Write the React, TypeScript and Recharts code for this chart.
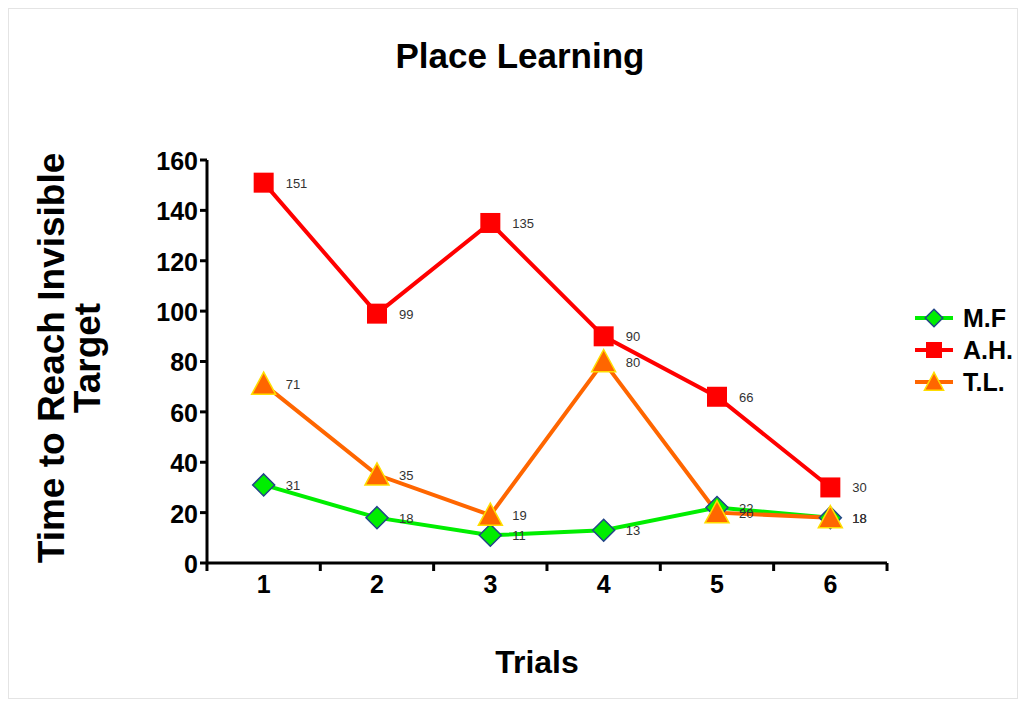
import { LineChart, Line, XAxis, YAxis, LabelList } from 'recharts';

const trials = [1, 2, 3, 4, 5, 6];
const mf = [31, 18, 11, 13, 22, 18];
const ah = [151, 99, 135, 90, 66, 30];
const tl = [71, 35, 19, 80, 20, 18];
const yTicks = [0, 20, 40, 60, 80, 100, 120, 140, 160];

const data = trials.map((t, i) => ({ trial: t, mf: mf[i], ah: ah[i], tl: tl[i] }));

const FONT = '"Liberation Sans", Arial, sans-serif';
const HALF_BAND = 56.7;

const series = [
  { key: 'mf', name: 'M.F', color: '#00ee00', shape: 'diamond' },
  { key: 'ah', name: 'A.H.', color: '#ff0000', shape: 'square' },
  { key: 'tl', name: 'T.L.', color: '#ff6600', shape: 'triangle' },
];

function Marker({ cx, cy, shape, size = 1 }: any) {
  if (cx == null || cy == null) return null;
  if (shape === 'diamond') {
    const r = 11 * size;
    return (
      <polygon
        points={`${cx},${cy - r} ${cx + r},${cy} ${cx},${cy + r} ${cx - r},${cy}`}
        fill="#00ee00"
        stroke="#224488"
        strokeWidth={1.5}
      />
    );
  }
  if (shape === 'square') {
    const r = 10 * size;
    return <rect x={cx - r} y={cy - r} width={2 * r} height={2 * r} fill="#ff0000" />;
  }
  const r = 12 * size;
  return (
    <polygon
      points={`${cx},${cy - r} ${cx + r},${cy + r * 0.85} ${cx - r},${cy + r * 0.85}`}
      fill="#ff6600"
      stroke="#ffdd00"
      strokeWidth={1.5}
    />
  );
}

function XTick({ x, y, payload, index }: any) {
  return (
    <g>
      <line x1={x - HALF_BAND} y1={y - 8} x2={x - HALF_BAND} y2={y} stroke="#000" strokeWidth={3} />
      {index === trials.length - 1 && (
        <line x1={x + HALF_BAND} y1={y - 8} x2={x + HALF_BAND} y2={y} stroke="#000" strokeWidth={3} />
      )}
      <text x={x} y={y + 22} textAnchor="middle" fontFamily={FONT} fontWeight="bold" fontSize={25} fill="#000">
        {payload.value}
      </text>
    </g>
  );
}

function PointLabel({ x, y, value }: any) {
  return (
    <text x={x + 22} y={y + 5} fontFamily={FONT} fontSize={13} fill="#333">
      {value}
    </text>
  );
}

function LegendBox() {
  return (
    <div style={{ position: 'absolute', left: 913, top: 302, fontFamily: FONT }}>
      {series.map((s) => (
        <div key={s.key} style={{ display: 'flex', alignItems: 'center', height: 32 }}>
          <svg width={44} height={28}>
            <line x1={2} y1={14} x2={40} y2={14} stroke={s.color} strokeWidth={4} />
            <Marker cx={21} cy={14} shape={s.shape} size={0.8} />
          </svg>
          <span style={{ fontWeight: 'bold', fontSize: 25, marginLeft: 6 }}>{s.name}</span>
        </div>
      ))}
    </div>
  );
}

export default function App() {
  return (
    <div style={{ position: 'fixed', left: 0, top: 0, width: 1025, height: 704, background: '#fff' }}>
      <div
        style={{
          position: 'absolute',
          left: 8,
          top: 8,
          width: 1008,
          height: 689,
          border: '1px solid #e4e4e4',
        }}
      />
      <div
        style={{
          position: 'absolute',
          left: 0,
          top: 36,
          width: 1040,
          textAlign: 'center',
          fontFamily: FONT,
          fontWeight: 'bold',
          fontSize: 35,
        }}
      >
        Place Learning
      </div>
      <div
        style={{
          position: 'absolute',
          left: 537 - 100,
          top: 644,
          width: 200,
          textAlign: 'center',
          fontFamily: FONT,
          fontWeight: 'bold',
          fontSize: 32,
        }}
      >
        Trials
      </div>
      <div
        style={{
          position: 'absolute',
          left: 78 - 250,
          top: 358 - 44,
          width: 500,
          height: 88,
          transform: 'rotate(-90deg)',
          textAlign: 'center',
          fontFamily: FONT,
          fontWeight: 'bold',
          fontSize: 37,
          lineHeight: '36px',
        }}
      >
        Time to Reach Invisible
        <br />
        Target
      </div>
      <div style={{ position: 'absolute', left: 0, top: 0 }}>
        <LineChart width={1025} height={704} data={data} margin={{ top: 160, left: 147, right: 138, bottom: 111 }}>
          <XAxis
            dataKey="trial"
            scale="band"
            axisLine={{ stroke: '#000', strokeWidth: 3 }}
            tickLine={false}
            tick={<XTick />}
            height={30}
            interval={0}
          />
          <YAxis
            domain={[0, 160]}
            ticks={yTicks}
            width={60}
            axisLine={{ stroke: '#000', strokeWidth: 3 }}
            tickLine={{ stroke: '#000', strokeWidth: 3 }}
            tickSize={7}
            tick={{ fontFamily: FONT, fontWeight: 'bold', fontSize: 25, fill: '#000', dy: 1 }}
            interval={0}
          />
          {series.map((s) => (
            <Line
              key={s.key}
              dataKey={s.key}
              name={s.name}
              stroke={s.color}
              strokeWidth={4}
              isAnimationActive={false}
              dot={(p: any) => <Marker key={`${s.key}-${p.index}`} cx={p.cx} cy={p.cy} shape={s.shape} />}
              activeDot={false}
            >
              <LabelList dataKey={s.key} content={<PointLabel />} />
            </Line>
          ))}
        </LineChart>
      </div>
      <LegendBox />
    </div>
  );
}
